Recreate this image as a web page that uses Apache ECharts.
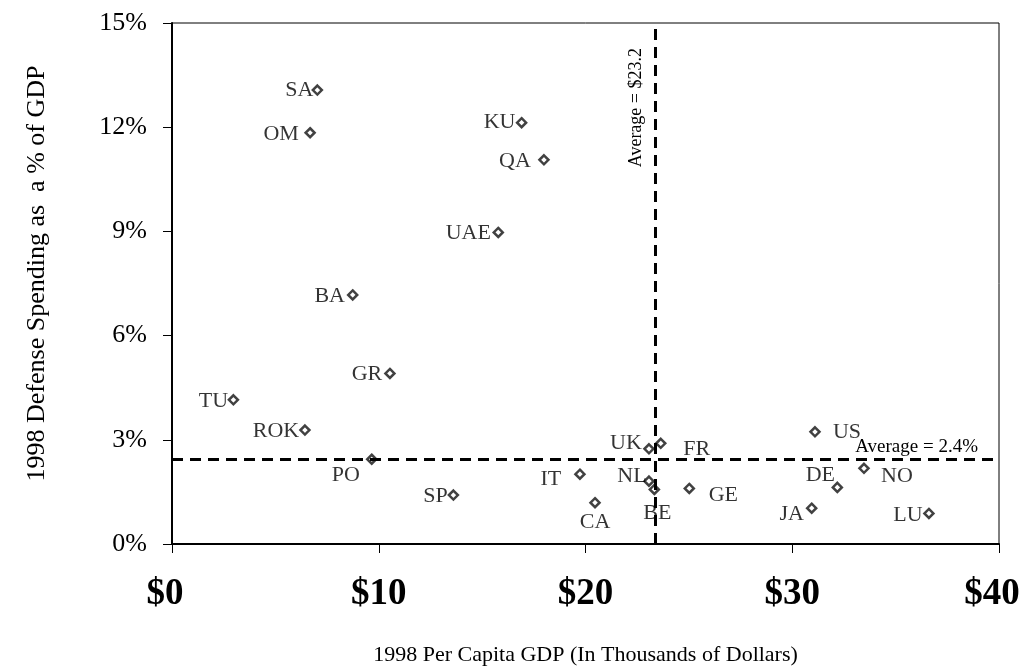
<!DOCTYPE html>
<html>
<head>
<meta charset="utf-8">
<script src="https://cdn.jsdelivr.net/npm/echarts@6/dist/echarts.min.js"></script>
<style>
html,body{margin:0;padding:0;background:#fff;}
#c{width:1024px;height:670px;}
</style>
</head>
<body>
<div id="c"></div>
<script>
// Data (1998): per capita GDP (thousands $) and defense spending (% of GDP)
const countries = ['SA','OM','KU','QA','UAE','BA','GR','TU','ROK','PO','SP','IT','CA','UK','FR','NL','BE','GE','US','DE','NO','JA','LU'];
const gdpPerCapita = [7.03,6.68,16.91,17.99,15.78,8.74,10.54,2.97,6.43,9.66,13.61,19.73,20.46,23.07,23.64,23.07,23.33,25.02,31.10,32.18,33.47,30.94,36.61];
const defensePct = [13.07,11.84,12.13,11.06,8.97,7.17,4.91,4.15,3.28,2.44,1.41,2.01,1.19,2.74,2.90,1.81,1.57,1.60,3.23,1.63,2.18,1.03,0.88];
const avgGdp = 23.35;      // drawn position of the GDP average line
const avgGdpLabel = 'Average = $23.2';
const avgDefense = 2.43;
const avgDefenseLabel = 'Average = 2.4%';
const xTicks = [0,10,20,30,40];
const yTicks = [0,3,6,9,12,15];

// label placement (presentation only): offset of label centre from marker
const labelOffsets = {
  SA:[-18,0], OM:[-29,1], KU:[-22,0], QA:[-29,1], UAE:[-30,1], BA:[-23,1], GR:[-23,1],
  TU:[-20,1], ROK:[-29,1], PO:[-26,16], SP:[-18,1], IT:[-29,5], CA:[0,20], UK:[-23,-6],
  FR:[36,6], NL:[-17,-5], BE:[3,24], GE:[34,7], US:[32,0], DE:[-17,-12], NO:[33,8],
  JA:[-20,6], LU:[-21,2]
};

const serif = '"Liberation Serif","Times New Roman",serif';
const pts = countries.map((n,i)=>({
  name:n,
  value:[gdpPerCapita[i], defensePct[i]],
  label:{offset: labelOffsets[n] || [-20,0]}
}));

const xLabelStyle = {fontFamily:serif, fontSize:37, fontWeight:'bold', color:'#000'};
const chart = echarts.init(document.getElementById('c'), null, {renderer:'canvas'});
chart.setOption({
  animation:false,
  backgroundColor:'#fff',
  grid:{left:172, right:25, top:23, bottom:126, containLabel:false, outerBoundsMode:'none',
    show:true, borderColor:'#000', borderWidth:1, backgroundColor:'transparent'},
  xAxis:{
    type:'value', min:xTicks[0], max:xTicks[xTicks.length-1], interval:10,
    name:'1998 Per Capita GDP (In Thousands of Dollars)',
    nameLocation:'middle', nameGap:100,
    nameTextStyle:{fontFamily:serif, fontSize:22, color:'#000'},
    axisLine:{show:true, onZero:false, lineStyle:{color:'#000', width:2}},
    axisTick:{show:true, inside:false, length:9, lineStyle:{color:'#000', width:1}},
    axisLabel:{...xLabelStyle, margin:32, hideOverlap:false,
      formatter:v=>(v===xTicks[0]||v===xTicks[xTicks.length-1]) ? '{e|$'+v+'}' : '{m|$'+v+'}',
      rich:{
        e:{...xLabelStyle, padding:[0,14,0,0]},
        m:{...xLabelStyle}
      }},
    splitLine:{show:false}
  },
  yAxis:{
    type:'value', min:yTicks[0], max:yTicks[yTicks.length-1], interval:3,
    name:'1998 Defense Spending as  a % of GDP',
    nameLocation:'middle', nameGap:122,
    nameTextStyle:{fontFamily:serif, fontSize:26, color:'#000', padding:[0,0,0,20]},
    axisLine:{show:true, onZero:false, lineStyle:{color:'#000', width:2}},
    axisTick:{show:true, inside:false, length:9, lineStyle:{color:'#000', width:1}},
    axisLabel:{fontFamily:serif, fontSize:26, color:'#000', margin:25, formatter:v=>v+'%'},
    splitLine:{show:false}
  },
  series:[{
    type:'scatter',
    data:pts,
    symbol:'diamond',
    symbolSize:9,
    itemStyle:{color:'#fff', borderColor:'#111', borderWidth:2.5},
    label:{show:true, position:'inside', formatter:'{b}', fontFamily:serif, fontSize:22, color:'#000',
      align:'center', verticalAlign:'middle'},
    emphasis:{disabled:true},
    markLine:{
      silent:true, symbol:'none', animation:false,
      lineStyle:{color:'#000', type:[11,7], width:3},
      data:[
        {xAxis:avgGdp, label:{show:true, formatter:avgGdpLabel, position:'insideEndTop', distance:[25,9],
          fontFamily:serif, fontSize:18, color:'#000'}},
        {yAxis:avgDefense, label:{show:true, formatter:avgDefenseLabel, position:'insideEndTop', distance:[21,3],
          fontFamily:serif, fontSize:19, color:'#000'}}
      ]
    }
  }]
});
</script>
</body>
</html>
